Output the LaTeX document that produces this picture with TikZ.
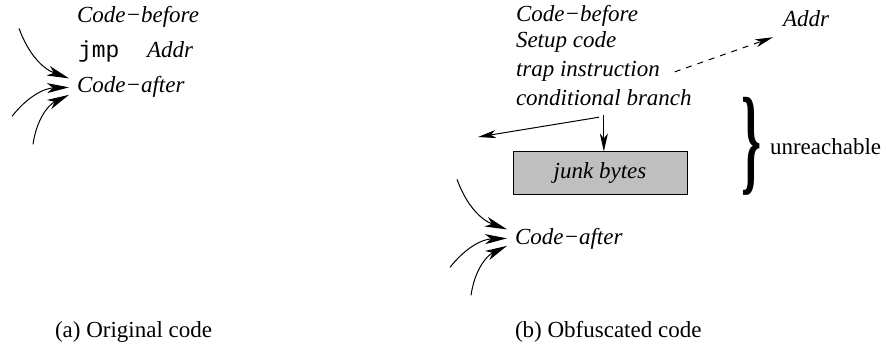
\documentclass[tikz,border=0pt]{standalone}
\usepackage{fontspec}
\setmainfont{Liberation Serif}
\setmonofont{Liberation Mono}
\usepackage{graphicx}
\usepackage{tikz}
\usetikzlibrary{arrows.meta}
\tikzstyle{code}=[anchor=base west,inner sep=0,outer sep=0,font=\fontsize{11.5}{14}\selectfont\itshape]
\tikzstyle{plain}=[anchor=base west,inner sep=0,outer sep=0,font=\fontsize{11.5}{14}\selectfont]
\tikzstyle{into}=[->,>={Stealth[length=11pt,width=5pt,inset=3pt]},line width=0.5pt]
\tikzstyle{jump}=[->,>={Stealth[length=9pt,width=4pt,inset=2.5pt]},line width=0.5pt]
\tikzstyle{junk}=[draw,fill=black!25,minimum width=87pt,minimum height=21pt,line width=0.5pt,
                font=\fontsize{11.5}{14}\selectfont\itshape]
\newcommand{\incoming}[1]{\coordinate (#1i) at ([shift={(-58,59)}]#1.west);
  \coordinate (#1j) at ([shift={(-65,-29)}]#1.west);
  \coordinate (#1k) at ([shift={(-44,-57)}]#1.west);
  \path[into] (#1i) edge[bend right=25] ([shift={(-8,9)}]#1.west)
              (#1j) edge[bend left=25] ([shift={(-8,0)}]#1.west)
              (#1k) edge[bend left=28] ([shift={(-8,-7.5)}]#1.west);}
\begin{document}
\begin{tikzpicture}[x=0.5pt,y=0.5pt]
  \useasboundingbox (0,0) rectangle (886,-347);

  \node[code] (before) at (77,-23) {Code−before};
  \node[plain,font=\fontsize{11.5}{14}\selectfont\ttfamily] (jmp) at (78,-58) {jmp};
  \node[code] (addr) at (147,-58) {Addr};
  \node[code] (after) at (77,-93) {Code−after};
  \incoming{after};
  \node[plain] (capa) at (55,-337) {(a) Original code};

  \node[code] (obefore) at (516,-22) {Code−before};
  \node[code] (setup) at (516,-48) {Setup code};
  \node[code] (trap) at (516,-77) {trap instruction};
  \node[code] (cond) at (516,-106) {conditional branch};
  \node[code] (oaddr) at (783,-27) {Addr};
  \node[junk] (bytes) at (600,-173) {junk bytes};
  \node[inner sep=0] (brace) at (751,-146) {\resizebox*{10pt}{49pt}{\bfseries\}}};
  \node[plain] (unr) at (770,-155) {unreachable};
  \node[code] (oafter) at (515,-244) {Code−after};
  \incoming{oafter};
  \coordinate (exit) at (478,-137);
  \path[jump] ([shift={(-5,-11)}]cond.south) edge (exit)
              ([yshift=-4.5pt]cond.south) edge (cond.south |- bytes.north);
  \path[jump,dashed] ([xshift=7.5pt]trap.east) edge ([shift={(-10,-10)}]oaddr.south west);
  \node[plain] (capb) at (515,-337) {(b) Obfuscated code};
\end{tikzpicture}
\end{document}
